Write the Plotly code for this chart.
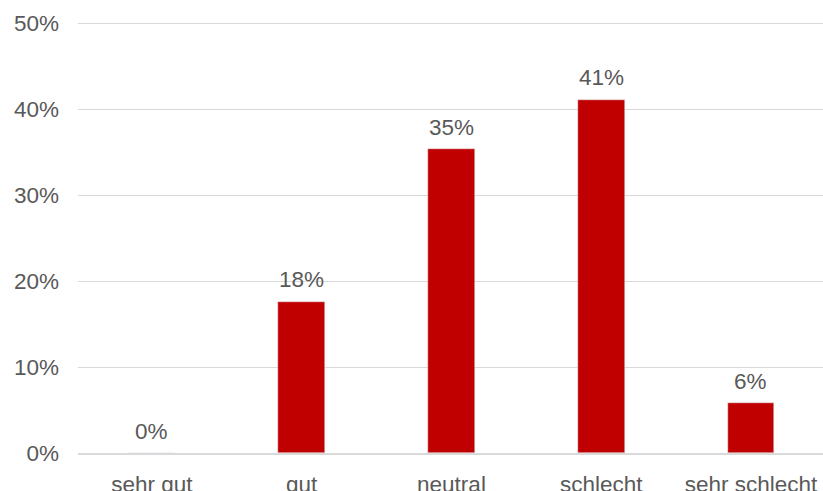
import plotly.graph_objects as go

categories = ["sehr gut", "gut", "neutral", "schlecht", "sehr schlecht"]
values = [0.0, 0.176, 0.353, 0.411, 0.058]
labels = ["0%", "18%", "35%", "41%", "6%"]
y_ticks = [0, 0.1, 0.2, 0.3, 0.4, 0.5]
y_tick_labels = ["0%", "10%", "20%", "30%", "40%", "50%"]

BAR_COLOR = "#C00000"
TEXT_COLOR = "#595959"
GRID_COLOR = "#D9D9D9"
FONT = "Liberation Sans, Arial, sans-serif"
FS = 22.5

fig = go.Figure()
fig.add_trace(go.Bar(
    x=categories, y=values, marker_color=BAR_COLOR, width=0.312,
    hoverinfo="skip",
))

for c, v, t in zip(categories, values, labels):
    fig.add_annotation(x=c, y=v, text=t, showarrow=False, yshift=22,
                       font=dict(family=FONT, size=FS, color=TEXT_COLOR),
                       xanchor="center", yanchor="middle")

fig.update_layout(
    width=823, height=491,
    margin=dict(l=78, r=0, t=22, b=38),
    paper_bgcolor="white", plot_bgcolor="white",
    showlegend=False,
    font=dict(family=FONT, size=FS, color=TEXT_COLOR),
    bargap=0,
)
fig.update_xaxes(
    type="category", range=[-0.494, 4.481], automargin=False,
    showgrid=False, showline=True, linecolor=GRID_COLOR, linewidth=1.5,
    ticks="outside", ticklen=10, tickcolor="rgba(0,0,0,0)",
    tickfont=dict(family=FONT, size=FS, color=TEXT_COLOR),
    zeroline=False,
)
fig.update_yaxes(
    range=[0, 0.5012], tickvals=y_ticks, ticktext=y_tick_labels,
    automargin=False,
    showgrid=True, gridcolor=GRID_COLOR, gridwidth=1,
    zeroline=False, showline=False,
    ticklabelstandoff=18,
    tickfont=dict(family=FONT, size=FS, color=TEXT_COLOR),
)

fig.write_html("out.html")
